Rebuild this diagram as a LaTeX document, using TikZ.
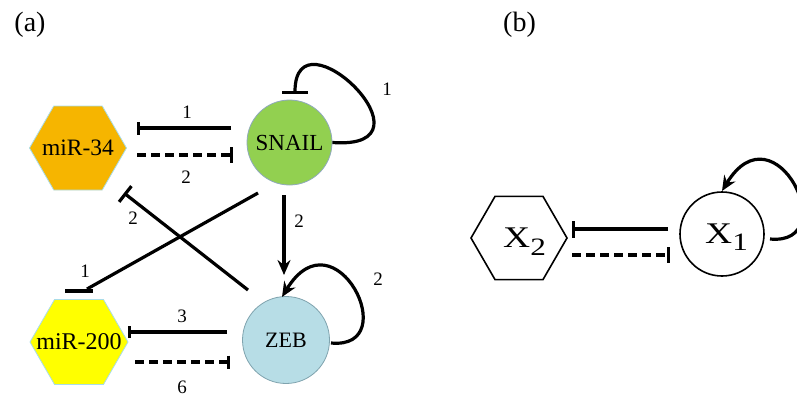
\documentclass[tikz,border=0pt]{standalone}
\usepackage{fontspec}
\setmainfont{Liberation Serif}
\usetikzlibrary{arrows.meta,shapes.geometric,calc}

\definecolor{snailgreen}{HTML}{92D050}
\definecolor{mirorange}{HTML}{F6B500}
\definecolor{miryellow}{HTML}{FFFF00}
\definecolor{zebblue}{HTML}{B7DDE6}
\definecolor{hexedge}{HTML}{A9DCE8}
\definecolor{snailedge}{HTML}{8FA9BC}
\definecolor{zebedge}{HTML}{7FA3AE}

\begin{document}
\begin{tikzpicture}[x=1pt,y=-1pt,
  hexnode/.style={regular polygon, regular polygon sides=6, minimum size=#1,
    inner sep=0pt, draw=hexedge, line width=0.8pt},
  circnode/.style={circle, minimum size=#1, inner sep=0pt, line width=0.8pt,
    font=\fontsize{22}{22}\selectfont},
  nametxt/.style={inner sep=0pt, font=\fontsize{#1}{#1}\selectfont},
  numlbl/.style={inner sep=0pt, font=\fontsize{19}{19}\selectfont},
  panel/.style={inner sep=0pt, font=\fontsize{28}{28}\selectfont},
  edge/.style={line width=3.2pt},
  inh/.style={edge, -{Bar[width=#1]}},
  act/.style={edge, -{Stealth[length=15pt,width=13pt,inset=5pt]}},
  dashline/.style={dash pattern=on 9pt off 5pt},
  xlabel/.style={anchor=base west, inner sep=0pt, font=\fontsize{30}{30}\selectfont}
]
\useasboundingbox (0,0) rectangle (797,397);

% panel labels
\node[panel] (pa) at (30,25) {(a)};
\node[panel] (pb) at (519.5,25) {(b)};

% ---------- (a) the SNAIL / ZEB / miR network ----------
\node[hexnode=97, fill=mirorange] (m34) at (78,148) {};
\node[nametxt=23.5] (m34t) at (m34) {miR-34};
\node[hexnode=98, fill=miryellow] (m200) at (79,342) {};
\node[nametxt=24] (m200t) at (m200) {miR-200};
\node[circnode=85, fill=snailgreen, draw=snailedge, font=\fontsize{23}{23}\selectfont] (snail) at (289.5,142.5) {SNAIL};
\node[circnode=87, fill=zebblue, draw=zebedge] (zeb) at (286,340) {ZEB};

% SNAIL and miR-34
\draw[inh=13] ($(snail)+(-58.5,-14.5)$) -- ($(m34)+(59,-20)$);
\draw[inh=16, dashline] ($(m34)+(59,7)$) -- ($(snail)+(-56.5,12.5)$);
\node[numlbl] (l1) at (187,112) {1};
\node[numlbl] (l2) at (186,177) {2};

% SNAIL self-inhibition
\draw[inh=26] (snail.east) .. controls +(112,8) and +(0,-88) .. ($(snail)+(5.5,-48.5)$);
\node[numlbl] (l3) at (387,89) {1};

% crossing inhibitions
\draw[inh=20] ($(zeb)+(-38,-50)$) -- ($(m34)+(46,45)$);
\node[numlbl] (l4) at (133,218) {2};
\draw[edge] ($(snail)+(-31.5,50.5)$) -- ($(m200)+(8,-53)$);
\draw[line width=4.5pt] ($(m200)+(-14,-51)$) -- ($(m200)+(14,-51)$);
\node[numlbl] (l5) at (85,271) {1};

% SNAIL activates ZEB
\draw[act] ($(snail)+(-5.5,52.5)$) -- ($(zeb)+(-2,-65)$);
\node[numlbl] (l6) at (299,221) {2};

% ZEB self-activation
\draw[act] ($(zeb)+(45,3)$) .. controls +(74,7) and +(53,-87) .. ($(zeb)+(-4,-43)$);
\node[numlbl] (l7) at (378,279) {2};

% ZEB and miR-200
\draw[inh=12] ($(zeb)+(-59,-8)$) -- ($(m200)+(49,-10)$);
\draw[inh=13, dashline] ($(m200)+(56,20)$) -- ($(zeb)+(-56,22)$);
\node[numlbl] (l8) at (182,316) {3};
\node[numlbl] (l9) at (182,387) {6};

% ---------- (b) the reduced two-node motif ----------
\node[regular polygon, regular polygon sides=6, minimum size=96, inner sep=0pt,
  draw=black, fill=white, line width=1.6pt] (x2) at (519,238) {};
\node[xlabel] (x2t) at (503,247) {\scalebox{1.25}[1]{X\raisebox{-8pt}{\fontsize{25}{25}\selectfont 2}}};
\node[circle, minimum size=84, inner sep=0pt, draw=black, line width=1.6pt] (x1) at (722,234) {};
\node[xlabel] (x1t) at (705,243) {\scalebox{1.25}[1]{X\raisebox{-7pt}{\fontsize{25}{25}\selectfont 1}}};

\draw[inh=17] ($(x1)+(-54,-5)$) -- ($(x2)+(53,-9)$);
\draw[inh=16, dashline] ($(x2)+(53,17)$) -- ($(x1)+(-52,21)$);
\draw[act] ($(x1)+(48,5)$) .. controls +(74,7) and +(53,-87) .. ($(x1)+(0,-43)$);
\end{tikzpicture}
\end{document}
